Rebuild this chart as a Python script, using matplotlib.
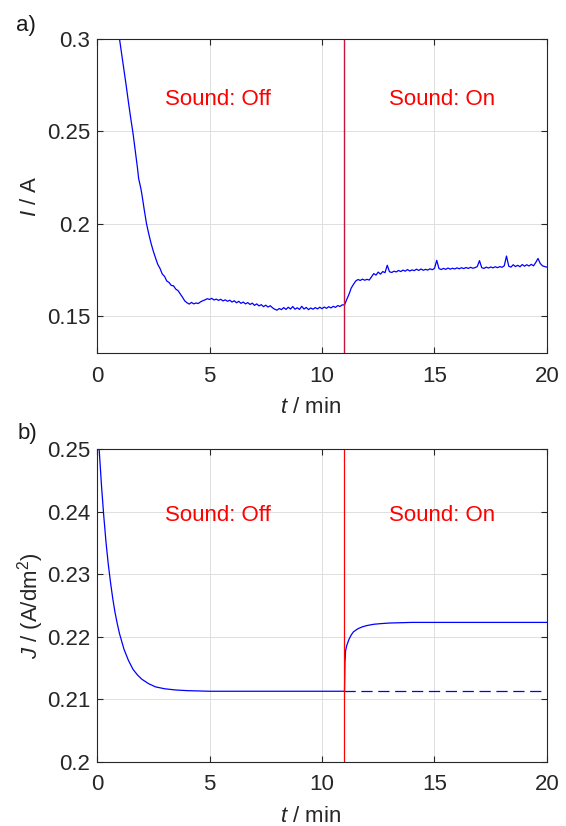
import numpy as np
import matplotlib
matplotlib.use('Agg')
import matplotlib.pyplot as plt

plt.rcParams['font.family'] = ['Liberation Sans', 'DejaVu Sans']
plt.rcParams['mathtext.fontset'] = 'custom'
plt.rcParams['mathtext.rm'] = 'Liberation Sans'
plt.rcParams['mathtext.it'] = 'Liberation Sans:italic'

t_a_start = [0.9, 1.0, 1.1, 1.2, 1.3, 1.4, 1.5, 1.6, 1.7, 1.8, 1.85, 1.9, 1.95, 2.0, 2.1, 2.2, 2.3, 2.4,
             2.5, 2.6, 2.7, 2.8, 2.9, 3.0, 3.1, 3.2, 3.3, 3.4, 3.5, 3.6, 3.7, 3.8, 3.9]
i_a_start = [0.3085, 0.3000, 0.2915, 0.2830, 0.2745, 0.2655, 0.2570, 0.2490, 0.2395, 0.2300, 0.2245,
             0.2218, 0.2190, 0.2155, 0.2075, 0.2000, 0.1945, 0.1895, 0.1852, 0.1815, 0.1780, 0.1758,
             0.1728, 0.1715, 0.1690, 0.1682, 0.1666, 0.1664, 0.1646, 0.1638, 0.1620, 0.1602, 0.1582]

# sound off plateau, t = 4.0 ... 10.9 every 0.1 min
i_a_off = [0.1572, 0.1565, 0.1574, 0.1566, 0.1571, 0.1568, 0.1577, 0.1583, 0.1588, 0.1594,
           0.1590, 0.1596, 0.1587, 0.1592, 0.1585, 0.1591, 0.1582, 0.1588, 0.1580, 0.1586,
           0.1576, 0.1583, 0.1572, 0.1580, 0.1569, 0.1576, 0.1566, 0.1573, 0.1563, 0.1570,
           0.1558, 0.1566, 0.1555, 0.1562, 0.1551, 0.1559, 0.1549, 0.1556, 0.1545, 0.1537,
           0.1532, 0.1541, 0.1535, 0.1546, 0.1536, 0.1548, 0.1538, 0.1552, 0.1537, 0.1545,
           0.1536, 0.1553, 0.1538, 0.1547, 0.1535, 0.1544, 0.1537, 0.1546, 0.1539, 0.1548,
           0.1540, 0.1549, 0.1542, 0.1551, 0.1544, 0.1553, 0.1547, 0.1557, 0.1552, 0.1561]

# sound on, t = 11.0 ... 20.0 every 0.1 min
i_a_on = [0.1560, 0.1590, 0.1618, 0.1652, 0.1672, 0.1690, 0.1698, 0.1693, 0.1700, 0.1694,
          0.1699, 0.1695, 0.1712, 0.1730, 0.1722, 0.1738, 0.1727, 0.1741, 0.1735, 0.1775,
          0.1740, 0.1736, 0.1743, 0.1739, 0.1747, 0.1741, 0.1749, 0.1743, 0.1752, 0.1744,
          0.1750, 0.1746, 0.1754, 0.1747, 0.1755, 0.1748, 0.1753, 0.1749, 0.1756, 0.1751,
          0.1758, 0.1802, 0.1757, 0.1752, 0.1758, 0.1753, 0.1760, 0.1754, 0.1759, 0.1755,
          0.1761, 0.1756, 0.1762, 0.1757, 0.1763, 0.1758, 0.1764, 0.1759, 0.1762, 0.1768,
          0.1800, 0.1762, 0.1758, 0.1765, 0.1760, 0.1766, 0.1761, 0.1767, 0.1762, 0.1768,
          0.1764, 0.1772, 0.1825, 0.1770, 0.1765, 0.1778, 0.1768, 0.1775, 0.1767, 0.1779,
          0.1770, 0.1778, 0.1771, 0.1780, 0.1772, 0.1790, 0.1812, 0.1785, 0.1772, 0.1768,
          0.1765]

# ---- panel b: modelled current density ----
t_b = [0.0, 0.1, 0.2, 0.3, 0.4, 0.5, 0.6, 0.7, 0.8, 0.9, 1.0, 1.2, 1.4, 1.6, 1.8, 2.0, 2.3, 2.6,
       3.0, 3.5, 4.0, 5.0, 6.0, 8.0, 10.0, 11.0, 11.02, 11.05, 11.1, 11.2, 11.3, 11.4, 11.6, 11.8,
       12.0, 12.3, 12.6, 13.0, 14.0, 20.0]
j_b = [0.2563, 0.2497, 0.2441, 0.2393, 0.2351, 0.2316, 0.2287, 0.2261, 0.2239, 0.2221, 0.2205,
       0.2180, 0.2162, 0.2148, 0.2139, 0.2132, 0.2125, 0.2120, 0.2117, 0.2115, 0.2114, 0.2113,
       0.2113, 0.2113, 0.2113, 0.2113, 0.2160, 0.2178, 0.2186, 0.2196, 0.2203, 0.2208, 0.2213,
       0.2216, 0.2218, 0.2220, 0.2221, 0.2222, 0.2223, 0.2223]
t_b_ref = [11.0, 20.0]
j_b_ref = [0.2113, 0.2113]

t_switch = 11.0

t_a = np.concatenate([t_a_start,
                      np.round(np.arange(len(i_a_off)) * 0.1 + 4.0, 2),
                      np.round(np.arange(len(i_a_on)) * 0.1 + 11.0, 2)])
i_a = np.concatenate([i_a_start, i_a_off, i_a_on])

fc = '#262626'
fig = plt.figure(figsize=(5.66, 8.26), dpi=100)
ax1 = fig.add_axes([0.1714, 0.5726, 0.795, 0.3802])
ax2 = fig.add_axes([0.1714, 0.0775, 0.795, 0.3789])


def style(ax):
    ax.set_xlim(0, 20)
    ax.set_xticks([0, 5, 10, 15, 20])
    ax.grid(True, color='#dedede', linewidth=0.7)
    ax.set_axisbelow(True)
    for s in ax.spines.values():
        s.set_color(fc)
        s.set_linewidth(0.8)
    ax.tick_params(direction='in', length=4, width=0.8, colors=fc, labelsize=16,
                   top=True, right=True)
    ax.tick_params(axis='x', pad=9)
    ax.tick_params(axis='y', pad=5)
    ax.set_xlabel(r'$\it{t}$ / min', fontsize=16, color=fc)
    ax.xaxis.label.set_va('center')
    ax.xaxis.set_label_coords(0.475, -0.175)
    ax.yaxis.label.set_va('center')
    ax.yaxis.set_label_coords(-0.147, 0.5)


ax1.plot(t_a, i_a, color='blue', linewidth=0.9)
ax1.axvline(t_switch, color='#c8143c', linewidth=1.0)
ax1.set_ylim(0.13, 0.3)
ax1.set_yticks([0.15, 0.2, 0.25, 0.3])
ax1.set_yticklabels(['0.15', '0.2', '0.25', '0.3'])
ax1.set_ylabel(r'$\it{I}$ / A', fontsize=16, color=fc)
style(ax1)
ax1.text(3, 0.264, 'Sound: Off', color='red', fontsize=16, va='baseline')
ax1.text(13, 0.264, 'Sound: On', color='red', fontsize=16, va='baseline')

ax2.plot(t_b, j_b, color='blue', linewidth=0.9)
ax2.plot(t_b_ref, j_b_ref, color='blue', linewidth=0.9, dashes=(9, 4.5))
ax2.axvline(t_switch, color='red', linewidth=0.9)
ax2.set_ylim(0.2, 0.25)
ax2.set_yticks([0.2, 0.21, 0.22, 0.23, 0.24, 0.25])
ax2.set_yticklabels(['0.2', '0.21', '0.22', '0.23', '0.24', '0.25'])
ax2.set_ylabel(r'$\it{J}$ / (A/dm$^2$)', fontsize=16, color=fc)
style(ax2)
ax2.text(3, 0.2385, 'Sound: Off', color='red', fontsize=16, va='baseline')
ax2.text(13, 0.2385, 'Sound: On', color='red', fontsize=16, va='baseline')

fig.text(26 / 566, 1 - 25 / 826, 'a)', fontsize=16, color='#1a1a1a', ha='center', va='center')
fig.text(27 / 566, 1 - 433 / 826, 'b)', fontsize=16, color='#1a1a1a', ha='center', va='center')

fig.savefig('out.png', dpi=100)
